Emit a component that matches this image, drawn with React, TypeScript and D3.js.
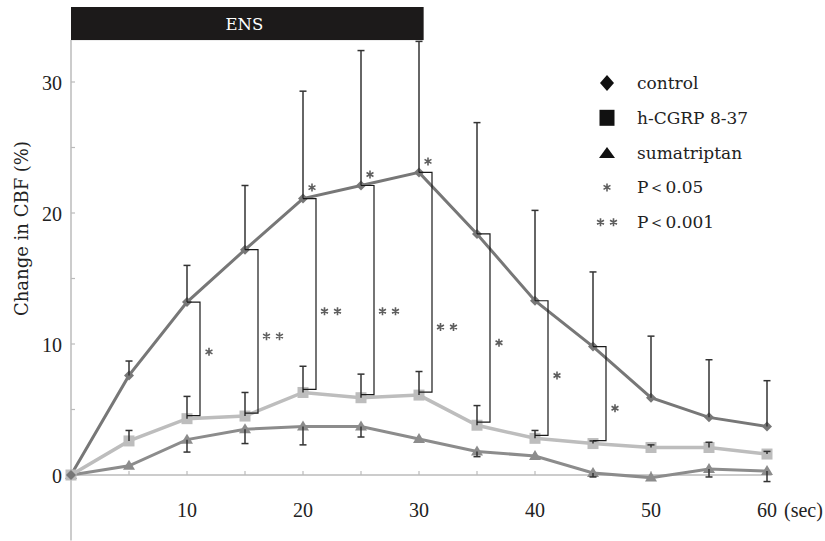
import React from 'react';
import * as d3 from 'd3';

// ---- data ----
const times = [0, 5, 10, 15, 20, 25, 30, 35, 40, 45, 50, 55, 60];
const controlMean = [0, 7.6, 13.2, 17.2, 21.1, 22.1, 23.1, 18.4, 13.3, 9.8, 5.9, 4.4, 3.7];
const controlErr = [0, 1.1, 2.8, 4.9, 8.2, 10.3, 10.5, 8.5, 6.9, 5.7, 4.7, 4.4, 3.5];
const cgrpMean = [0, 2.6, 4.3, 4.5, 6.3, 5.9, 6.1, 3.8, 2.8, 2.4, 2.1, 2.1, 1.6];
const cgrpErr = [0, 0.8, 1.7, 1.8, 2.0, 1.8, 1.8, 1.5, 0.6, 0.2, 0.2, 0.4, 0.2];
const sumaMean = [0, 0.7, 2.7, 3.5, 3.7, 3.7, 2.75, 1.8, 1.45, 0.15, -0.2, 0.45, 0.3];
const sumaErr = [0, 0, 0.95, 1.1, 1.4, 0.8, 0, 0.4, 0, 0.3, 0, 0.6, 0.8];

const yTicks = [0, 5, 10, 15, 20, 25, 30];
const yLabelTicks = [0, 10, 20, 30];
const xTicks = [5, 10, 15, 20, 25, 30, 35, 40, 45, 50, 55, 60];
const xLabelTicks = [10, 20, 30, 40, 50, 60];
const xUnit = '(sec)';
const yTitle = 'Change in CBF (%)';
const yExtent = [-5, 33.2];
const xAxisEnd = 60.4;

const ensLabel = 'ENS';
const ensPeriod = [0, 30.4];

const bracketTimes = [10, 15, 20, 25, 30, 35, 40, 45];
const bracketMarks = ['*', '**', '**', '**', '**', '*', '*', '*'];
const bracketLabelValue = [9.4, 10.6, 12.5, 12.5, 11.3, 10.1, 7.6, 5.1];
const peakMarkTimes = [20, 25, 30];

const legendLabels = ['control', 'h-CGRP 8-37', 'sumatriptan', 'P＜0.05', 'P＜0.001'];
const legendKinds = ['diamond', 'square', 'triangle', '*', '**'];

// ---- layout ----
const W = 825;
const H = 541;
const x = d3.scaleLinear().domain([0, 60]).range([71, 767]);
const y = d3.scaleLinear().domain([0, 30]).range([475, 82]);

const serifNum = '"Liberation Serif", "Times New Roman", serif';
const serifText = '"DejaVu Serif", serif';

const cControl = '#777777';
const cCgrp = '#bdbdbd';
const cSuma = '#8c8c8c';
const cErr = '#333333';
const cStar = '#5e5e5e';

function lineFor(vals: number[]) {
  return d3
    .line<number>()
    .x((_, i) => x(times[i]))
    .y((d) => y(d))(vals) as string;
}

function diamondPath(cx: number, cy: number, hw: number, hh: number) {
  return `M${cx},${cy - hh}L${cx + hw},${cy}L${cx},${cy + hh}L${cx - hw},${cy}Z`;
}
function trianglePath(cx: number, cy: number, w: number, h: number) {
  return `M${cx},${cy - h * 0.6}L${cx + w / 2},${cy + h * 0.4}L${cx - w / 2},${cy + h * 0.4}Z`;
}

function starPath(cx: number, cy: number, r: number) {
  let d = '';
  for (let k = 0; k < 3; k++) {
    const a = (Math.PI / 3) * k + Math.PI / 2;
    const dx = Math.cos(a) * r;
    const dy = Math.sin(a) * r;
    d += `M${cx - dx},${cy - dy}L${cx + dx},${cy + dy}`;
  }
  return d;
}

function Stars({ cx, cy, kind }: { cx: number; cy: number; kind: string }) {
  const n = kind.length;
  const gap = 13;
  let d = '';
  for (let i = 0; i < n; i++) {
    const px = cx + (i - (n - 1) / 2) * gap;
    d += starPath(px, cy, 4);
  }
  return <path d={d} stroke={cStar} strokeWidth={1.6} fill="none" />;
}

function ErrBar({ t, mean, err, dir }: { t: number; mean: number; err: number; dir: number }) {
  if (!err) return null;
  const end = Math.max(yExtent[0], Math.min(yExtent[1] - 0.1, mean + dir * err));
  const px = x(t);
  return (
    <g stroke={cErr} strokeWidth={1.5}>
      <line x1={px} x2={px} y1={y(mean)} y2={y(end)} />
      <line x1={px - 3.5} x2={px + 3.5} y1={y(end)} y2={y(end)} />
    </g>
  );
}

export default function App() {
  const bracketDx = 13;
  return (
    <svg width={W} height={H} style={{ position: 'absolute', left: 0, top: 0, background: '#fff' }}>
      <rect x={0} y={0} width={W} height={H} fill="#fff" />
      {/* ENS bar */}
      <rect x={x(ensPeriod[0])} y={7} width={x(ensPeriod[1]) - x(ensPeriod[0])} height={y(yExtent[1]) - 7} fill="#1c1a1a" />
      <text x={(x(ensPeriod[0]) + x(ensPeriod[1])) / 2 - 3} y={30} fill="#fff" fontFamily={serifText} fontSize={16.5} textAnchor="middle">
        {ensLabel}
      </text>

      {/* axes */}
      <line x1={x(0)} x2={x(0)} y1={y(yExtent[1])} y2={y(yExtent[0])} stroke="#bbb" strokeWidth={1.5} />
      <line x1={x(0)} x2={x(xAxisEnd)} y1={y(0)} y2={y(0)} stroke="#bbb" strokeWidth={1.5} />
      {yTicks.map((v) => (
        <line key={v} x1={x(0)} x2={x(0) + 4} y1={y(v)} y2={y(v)} stroke="#bbb" strokeWidth={1.2} />
      ))}
      {xTicks.map((t) => (
        <line key={t} x1={x(t)} x2={x(t)} y1={y(0)} y2={y(0) - 4} stroke="#bbb" strokeWidth={1.2} />
      ))}
      {yLabelTicks.map((v) => (
        <text key={v} x={62} y={y(v) + 8} fontFamily={serifNum} fontSize={20} fill="#222" textAnchor="end">
          {v}
        </text>
      ))}
      {xLabelTicks.map((t) => (
        <text key={t} x={x(t)} y={517} fontFamily={serifNum} fontSize={20} fill="#222" textAnchor="middle">
          {t}
        </text>
      ))}
      <text x={x(60) + 17} y={517} fontFamily={serifNum} fontSize={20} fill="#222">
        {xUnit}
      </text>
      <text
        transform={`translate(28, ${(135 + 322) / 2}) rotate(-90)`}
        fontFamily={serifText}
        fontSize={18}
        fill="#222"
        textAnchor="middle"
      >
        {yTitle}
      </text>

      {/* lines */}
      <path d={lineFor(sumaMean)} fill="none" stroke={cSuma} strokeWidth={3} />
      <path d={lineFor(cgrpMean)} fill="none" stroke={cCgrp} strokeWidth={3.5} />
      <path d={lineFor(controlMean)} fill="none" stroke={cControl} strokeWidth={3} />

      {/* markers */}
      {sumaMean.map((v, i) => (
        <path key={'s' + i} d={trianglePath(x(times[i]), y(v), 12, 10)} fill={cSuma} />
      ))}
      {cgrpMean.map((v, i) => (
        <rect key={'c' + i} x={x(times[i]) - 5.5} y={y(v) - 5.5} width={11} height={11} fill={cCgrp} />
      ))}
      {controlMean.map((v, i) => (
        <path key={'d' + i} d={diamondPath(x(times[i]), y(v), 5, 5)} fill={cControl} />
      ))}

      {/* error bars */}
      {controlMean.map((v, i) => (
        <ErrBar key={'ec' + i} t={times[i]} mean={v} err={controlErr[i]} dir={1} />
      ))}
      {cgrpMean.map((v, i) => (
        <ErrBar key={'eg' + i} t={times[i]} mean={v} err={cgrpErr[i]} dir={1} />
      ))}
      {sumaMean.map((v, i) => (
        <ErrBar key={'es' + i} t={times[i]} mean={v} err={sumaErr[i]} dir={-1} />
      ))}

      {/* significance brackets */}
      {bracketTimes.map((t, k) => {
        const i = times.indexOf(t);
        const px = x(t);
        const y1 = y(controlMean[i]);
        const y2 = y(cgrpMean[i]) - 3;
        const mark = bracketMarks[k];
        const lx = px + bracketDx + (mark.length === 2 ? 15 : 9);
        return (
          <g key={'b' + t}>
            <path
              d={`M${px},${y1}H${px + bracketDx}V${y2}H${px}`}
              fill="none"
              stroke="#1a1a1a"
              strokeWidth={1.2}
            />
            <Stars cx={lx} cy={y(bracketLabelValue[k])} kind={mark} />
          </g>
        );
      })}
      {peakMarkTimes.map((t) => {
        const i = times.indexOf(t);
        return <Stars key={'p' + t} cx={x(t) + 9} cy={y(controlMean[i]) - 11} kind="*" />;
      })}

      {/* legend */}
      {legendLabels.map((lab, k) => {
        const cy = 83 + k * 34.8;
        const cx = 607;
        const kind = legendKinds[k];
        let marker: React.ReactNode = null;
        if (kind === 'diamond') marker = <path d={diamondPath(cx, cy, 7, 8)} fill="#111" />;
        else if (kind === 'square') marker = <rect x={cx - 7.5} y={cy - 8} width={15} height={16} fill="#111" />;
        else if (kind === 'triangle') marker = <path d={trianglePath(cx, cy + 1, 16, 11)} fill="#111" />;
        else marker = <Stars cx={cx} cy={cy} kind={kind} />;
        return (
          <g key={lab}>
            {marker}
            <text x={637} y={cy + 6} fontFamily={serifText} fontSize={17} fill="#222">
              {lab}
            </text>
          </g>
        );
      })}
    </svg>
  );
}
